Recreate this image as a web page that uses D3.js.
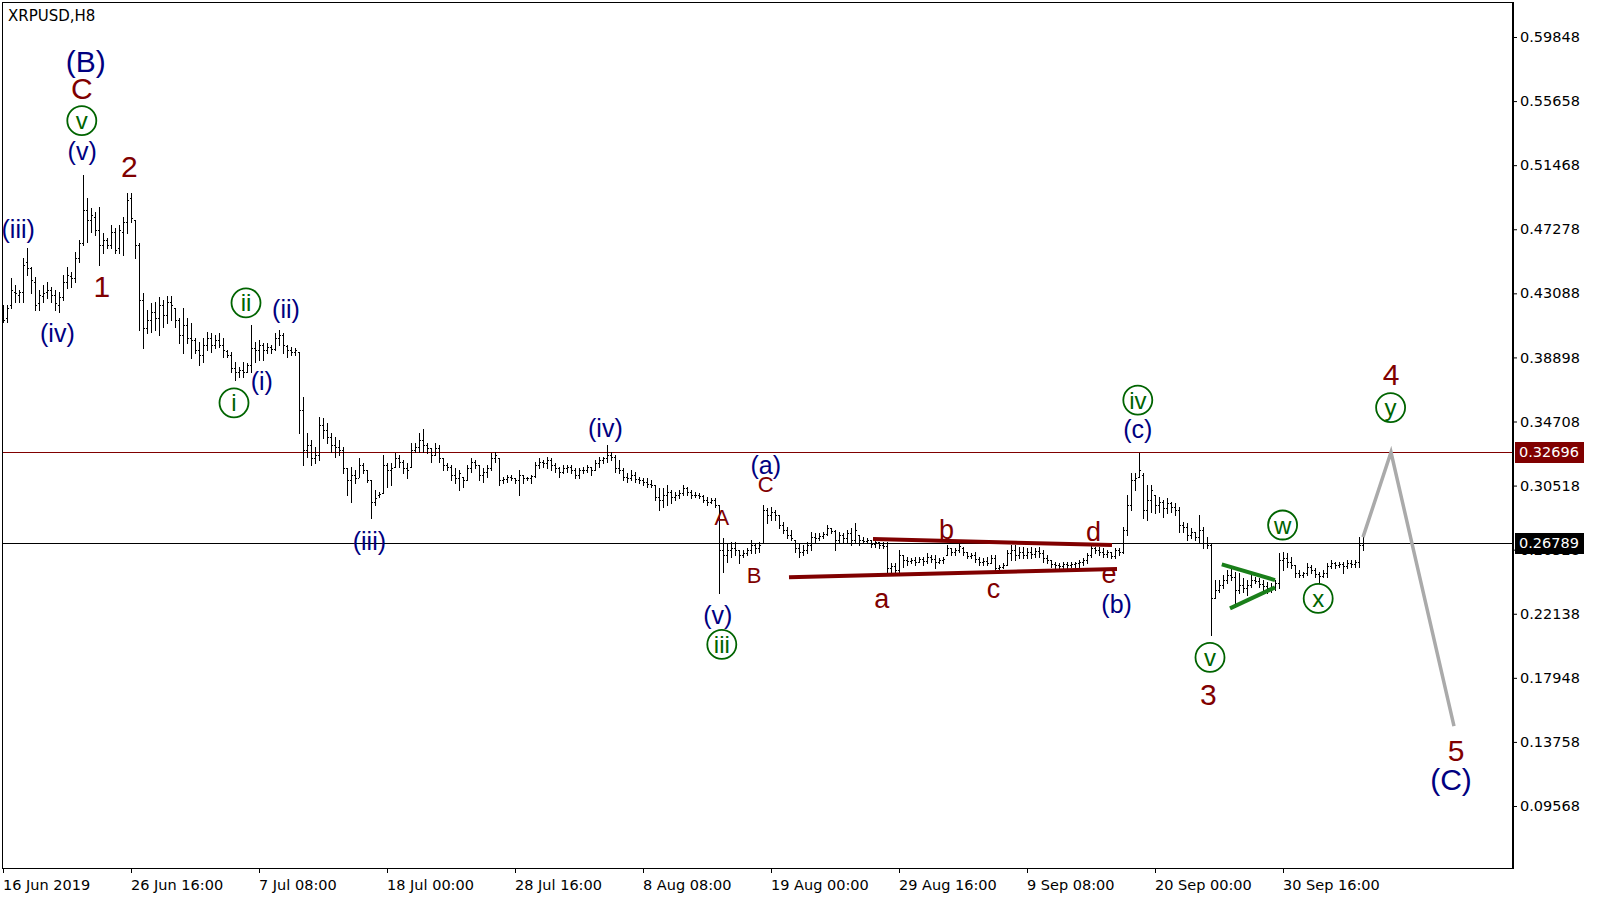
<!DOCTYPE html>
<html><head><meta charset="utf-8">
<script src="https://cdn.jsdelivr.net/npm/d3@7"></script>
<style>
html,body{margin:0;padding:0;background:#fff;}
svg{display:block;}
</style></head><body>
<svg id="chart" width="1599" height="900"></svg>
<script>
const symbol = "XRPUSD,H8";

const high = [
.4232,.4232,.4409,.4363,.4330,.4540,.4605,.4481,.4415,.4330,
.4363,.4383,.4350,.4330,.4317,.4429,.4481,.4448,.4579,.4657,
.5082,.4932,.4867,.4841,.4873,.4703,.4671,.4756,.4736,.4756,
.4808,.4965,.4965,.4788,.4638,.4311,.4200,.4245,.4252,.4285,
.4265,.4291,.4291,.4213,.4147,.4213,.4147,.4115,.4017,.3990,
.4017,.4056,.4049,.4036,.4049,.4017,.3938,.3925,.3860,.3827,
.3860,.3853,.4102,.3990,.4003,.3984,.3984,.3971,.4049,.4069,
.4049,.3971,.3958,.3951,.3925,.3631,.3395,.3349,.3304,.3500,
.3493,.3461,.3395,.3369,.3349,.3304,.3166,.3173,.3153,.3232,
.3199,.3153,.3088,.3022,.3009,.3251,.3199,.3199,.3264,.3251,
.3219,.3199,.3330,.3330,.3395,.3421,.3330,.3297,.3330,.3317,
.3232,.3199,.3186,.3166,.3153,.3107,.3186,.3232,.3219,.3186,
.3166,.3186,.3264,.3271,.3232,.3107,.3121,.3121,.3101,.3153,
.3121,.3107,.3121,.3206,.3232,.3219,.3238,.3232,.3199,.3173,
.3186,.3186,.3186,.3166,.3166,.3173,.3186,.3173,.3219,.3238,
.3238,.3317,.3271,.3251,.3219,.3166,.3134,.3153,.3140,.3107,
.3101,.3101,.3088,.3055,.3036,.3036,.3055,.3022,.3009,.3022,
.3055,.3042,.3022,.3009,.3003,.2990,.2977,.2970,.2970,.2924,
.2709,.2676,.2682,.2682,.2630,.2630,.2643,.2695,.2676,.2682,
.2924,.2905,.2911,.2892,.2859,.2813,.2780,.2761,.2695,.2676,
.2663,.2682,.2748,.2741,.2741,.2748,.2794,.2774,.2761,.2748,
.2741,.2761,.2774,.2807,.2728,.2715,.2709,.2695,.2709,.2682,
.2682,.2682,.2545,.2545,.2630,.2597,.2584,.2578,.2584,.2584,
.2584,.2610,.2597,.2597,.2578,.2584,.2663,.2643,.2643,.2676,
.2650,.2617,.2610,.2617,.2584,.2578,.2584,.2597,.2597,.2532,
.2545,.2630,.2663,.2663,.2650,.2650,.2643,.2650,.2643,.2650,
.2630,.2597,.2565,.2552,.2545,.2552,.2552,.2552,.2552,.2565,
.2578,.2610,.2663,.2650,.2650,.2643,.2630,.2617,.2643,.2643,
.2780,.2990,.3134,.3134,.3264,.3134,.3055,.3055,.2990,.2977,
.2957,.2970,.2944,.2937,.2911,.2813,.2807,.2774,.2748,.2859,
.2780,.2715,.2676,.2434,.2434,.2467,.2499,.2512,.2486,.2480,
.2447,.2434,.2467,.2453,.2447,.2434,.2421,.2414,.2434,.2610,
.2617,.2610,.2584,.2532,.2499,.2486,.2545,.2532,.2512,.2486,
.2499,.2545,.2565,.2552,.2552,.2552,.2565,.2565,.2565,.2715,
.2715];

const low = [
.4121,.4121,.4213,.4252,.4252,.4252,.4429,.4311,.4200,.4200,
.4252,.4278,.4252,.4200,.4187,.4265,.4344,.4350,.4383,.4514,
.4625,.4644,.4710,.4690,.4494,.4572,.4605,.4605,.4572,.4572,
.4559,.4703,.4775,.4540,.4069,.3951,.4049,.4056,.4069,.4036,
.4088,.4115,.4134,.4088,.3984,.3918,.3984,.3886,.3918,.3840,
.3860,.3938,.3925,.3951,.3958,.3892,.3892,.3794,.3742,.3761,
.3761,.3794,.3794,.3860,.3873,.3873,.3918,.3918,.3938,.3971,
.3918,.3892,.3905,.3905,.3395,.3186,.3238,.3186,.3199,.3219,
.3363,.3330,.3271,.3238,.3251,.3134,.2990,.2944,.3068,.3107,
.3134,.3075,.2839,.2924,.2977,.3003,.3042,.3055,.3173,.3173,
.3134,.3101,.3173,.3271,.3271,.3271,.3264,.3206,.3251,.3206,
.3153,.3153,.3088,.3068,.3022,.3042,.3088,.3140,.3166,.3088,
.3075,.3107,.3153,.3206,.3055,.3068,.3075,.3088,.3068,.2990,
.3068,.3088,.3068,.3107,.3166,.3173,.3166,.3153,.3140,.3107,
.3134,.3140,.3134,.3101,.3101,.3134,.3140,.3121,.3153,.3173,
.3199,.3206,.3219,.3140,.3134,.3088,.3075,.3088,.3075,.3068,
.3055,.3042,.3042,.2957,.2892,.2911,.2924,.2937,.2957,.2970,
.2990,.2990,.2970,.2977,.2970,.2944,.2924,.2937,.2911,.2349,
.2486,.2552,.2584,.2597,.2545,.2584,.2597,.2610,.2610,.2617,
.2676,.2807,.2826,.2826,.2774,.2741,.2709,.2695,.2617,.2584,
.2597,.2610,.2630,.2682,.2695,.2709,.2728,.2741,.2630,.2682,
.2682,.2682,.2663,.2676,.2663,.2676,.2676,.2650,.2650,.2643,
.2643,.2467,.2486,.2467,.2486,.2519,.2532,.2545,.2532,.2552,
.2532,.2545,.2552,.2512,.2545,.2545,.2597,.2597,.2597,.2617,
.2597,.2578,.2578,.2552,.2532,.2532,.2532,.2545,.2480,.2499,
.2512,.2532,.2565,.2565,.2578,.2578,.2578,.2578,.2584,.2584,
.2552,.2545,.2519,.2512,.2512,.2499,.2512,.2519,.2519,.2519,
.2532,.2545,.2584,.2610,.2597,.2584,.2584,.2578,.2578,.2597,
.2610,.2728,.2892,.3022,.3107,.2839,.2826,.2879,.2872,.2879,
.2846,.2872,.2879,.2859,.2748,.2748,.2695,.2709,.2695,.2676,
.2643,.2643,.2074,.2316,.2355,.2382,.2414,.2434,.2257,.2349,
.2355,.2336,.2388,.2414,.2388,.2368,.2349,.2355,.2368,.2382,
.2499,.2519,.2512,.2453,.2453,.2453,.2467,.2480,.2453,.2414,
.2453,.2453,.2512,.2512,.2519,.2480,.2512,.2519,.2519,.2519,
.2630];

const open = [
.4180,.4147,.4232,.4317,.4298,.4317,.4514,.4474,.4383,.4245,
.4291,.4317,.4330,.4298,.4232,.4285,.4383,.4422,.4409,.4540,
.4638,.4854,.4788,.4808,.4723,.4625,.4657,.4625,.4710,.4605,
.4710,.4775,.4932,.4788,.4625,.4265,.4082,.4134,.4187,.4147,
.4232,.4167,.4252,.4213,.4134,.4036,.4102,.4017,.4003,.3938,
.3905,.3971,.4017,.3971,.4003,.3971,.3932,.3905,.3820,.3794,
.3807,.3794,.3840,.3951,.3938,.3971,.3938,.3958,.3945,.4017,
.4036,.3964,.3938,.3925,.3925,.3546,.3284,.3317,.3232,.3251,
.3448,.3415,.3369,.3317,.3304,.3284,.3166,.3088,.3121,.3101,
.3186,.3153,.3088,.2944,.2990,.3003,.3186,.3153,.3173,.3232,
.3206,.3166,.3173,.3284,.3304,.3349,.3317,.3297,.3251,.3297,
.3232,.3186,.3173,.3121,.3101,.3107,.3088,.3166,.3206,.3186,
.3121,.3140,.3166,.3232,.3232,.3088,.3094,.3107,.3101,.3088,
.3121,.3101,.3101,.3114,.3186,.3206,.3199,.3219,.3186,.3166,
.3140,.3166,.3173,.3153,.3121,.3153,.3153,.3173,.3153,.3199,
.3219,.3232,.3251,.3238,.3166,.3153,.3107,.3101,.3121,.3094,
.3088,.3075,.3062,.3055,.2977,.2957,.2990,.3009,.2977,.2990,
.3003,.3036,.3009,.2990,.2990,.2983,.2957,.2944,.2957,.2924,
.2630,.2597,.2630,.2643,.2630,.2597,.2610,.2630,.2663,.2643,
.2676,.2892,.2859,.2879,.2859,.2794,.2761,.2728,.2695,.2643,
.2617,.2630,.2663,.2715,.2709,.2722,.2735,.2774,.2754,.2695,
.2728,.2709,.2741,.2695,.2728,.2695,.2689,.2695,.2669,.2682,
.2663,.2656,.2512,.2525,.2499,.2597,.2565,.2558,.2565,.2552,
.2571,.2558,.2584,.2571,.2552,.2565,.2597,.2643,.2617,.2630,
.2643,.2617,.2591,.2597,.2571,.2552,.2558,.2545,.2578,.2512,
.2519,.2532,.2610,.2630,.2597,.2617,.2597,.2617,.2604,.2624,
.2610,.2578,.2565,.2538,.2532,.2525,.2538,.2532,.2538,.2545,
.2552,.2565,.2597,.2643,.2630,.2617,.2604,.2617,.2591,.2630,
.2617,.2761,.2924,.3088,.3107,.3121,.2892,.2957,.2990,.2924,
.2944,.2905,.2937,.2911,.2892,.2794,.2780,.2728,.2748,.2715,
.2761,.2676,.2663,.2316,.2368,.2401,.2434,.2467,.2453,.2368,
.2401,.2382,.2401,.2434,.2427,.2408,.2395,.2382,.2388,.2414,
.2565,.2578,.2552,.2532,.2480,.2467,.2480,.2519,.2499,.2473,
.2460,.2480,.2525,.2545,.2532,.2538,.2525,.2545,.2538,.2552,
.2663];

const close = [
.4134,.4213,.4330,.4311,.4317,.4494,.4474,.4396,.4232,.4298,
.4311,.4330,.4298,.4245,.4285,.4383,.4429,.4409,.4540,.4638,
.4854,.4788,.4821,.4723,.4625,.4657,.4625,.4710,.4592,.4723,
.4775,.4919,.4801,.4625,.4265,.4082,.4134,.4187,.4147,.4232,
.4167,.4252,.4232,.4134,.4036,.4102,.4017,.4003,.3938,.3905,
.3971,.4017,.3971,.4003,.3971,.3938,.3905,.3820,.3794,.3807,
.3794,.3840,.3951,.3938,.3971,.3938,.3958,.3945,.4017,.4036,
.3971,.3938,.3925,.3938,.3546,.3284,.3317,.3232,.3251,.3448,
.3415,.3369,.3317,.3304,.3284,.3166,.3088,.3121,.3101,.3186,
.3153,.3088,.2944,.2970,.2996,.3186,.3153,.3166,.3232,.3206,
.3166,.3153,.3284,.3304,.3349,.3317,.3297,.3251,.3297,.3232,
.3186,.3173,.3121,.3101,.3134,.3088,.3166,.3206,.3186,.3121,
.3140,.3166,.3232,.3251,.3088,.3094,.3107,.3101,.3088,.3121,
.3101,.3101,.3114,.3186,.3206,.3199,.3219,.3186,.3166,.3140,
.3166,.3173,.3153,.3121,.3153,.3153,.3173,.3153,.3199,.3219,
.3232,.3251,.3238,.3166,.3153,.3107,.3101,.3121,.3094,.3088,
.3075,.3062,.3055,.2977,.2957,.2990,.3009,.2977,.2990,.3003,
.3036,.3009,.2990,.2990,.2983,.2957,.2944,.2957,.2924,.2630,
.2597,.2630,.2643,.2630,.2597,.2610,.2630,.2663,.2643,.2663,
.2892,.2859,.2879,.2859,.2794,.2761,.2728,.2709,.2643,.2617,
.2630,.2663,.2715,.2709,.2722,.2735,.2774,.2754,.2695,.2728,
.2709,.2741,.2695,.2761,.2695,.2689,.2695,.2669,.2682,.2663,
.2656,.2512,.2525,.2499,.2597,.2565,.2558,.2565,.2552,.2571,
.2558,.2584,.2571,.2552,.2565,.2571,.2643,.2617,.2630,.2656,
.2617,.2591,.2597,.2571,.2552,.2558,.2545,.2578,.2512,.2519,
.2532,.2610,.2630,.2597,.2617,.2597,.2617,.2604,.2624,.2610,
.2578,.2565,.2538,.2532,.2525,.2538,.2532,.2538,.2545,.2552,
.2565,.2597,.2643,.2630,.2617,.2604,.2617,.2591,.2630,.2617,
.2761,.2924,.3088,.3101,.3153,.2892,.2957,.3022,.2924,.2944,
.2905,.2937,.2911,.2892,.2794,.2780,.2728,.2748,.2715,.2761,
.2676,.2663,.2316,.2368,.2401,.2434,.2467,.2453,.2368,.2401,
.2382,.2401,.2434,.2427,.2408,.2395,.2382,.2388,.2414,.2565,
.2578,.2552,.2532,.2480,.2467,.2480,.2519,.2499,.2473,.2460,
.2480,.2525,.2545,.2532,.2538,.2525,.2545,.2538,.2552,.2663,
.2679];

const yTicks = [0.59848,0.55658,0.51468,0.47278,0.43088,0.38898,0.34708,0.30518,0.26328,0.22138,0.17948,0.13758,0.09568];
const xTickBars = [0,32,64,96,128,160,192,224,256,288,320];
const xTickLabels = ["16 Jun 2019","26 Jun 16:00","7 Jul 08:00","18 Jul 00:00","28 Jul 16:00","8 Aug 08:00","19 Aug 00:00","29 Aug 16:00","9 Sep 08:00","20 Sep 00:00","30 Sep 16:00"];

const resistanceLevel = 0.32696;
const lastPrice = 0.26789;

// trend lines: [barIndex, price]
const triangleUpper = [[217.5,0.2702],[277.25,0.2663]];
const triangleLower = [[196.5,0.2453],[278.5,0.2506]];
const wTriangleUpper = [[304.7,0.2537],[318,0.2434]];
const wTriangleLower = [[306.75,0.2249],[318,0.2386]];
const projection = [[340,0.2715],[347,0.32696],[362.75,0.1479]];

// wave labels: [text, barIndex, price]
const labelsCycle = [["(B)",20.7,0.5758],["(C)",362,0.1062]];
const labelsPrimary = [["C",19.7,0.5580],["1",24.7,0.4285],["2",31.6,0.5069],["3",301.35,0.1616],["4",347,0.3709],["5",363.25,0.1252]];
const labelsCircled = [["v",19.7,0.5438],["i",57.75,0.3593],["ii",60.75,0.4247],["iii",179.7,0.2013],["iv",283.7,0.3611],["v",301.75,0.1928],["w",319.9,0.2794],["x",328.8,0.2314],["y",346.9,0.3562]];
const labelsMinor = [["(iii)",3.8,0.4670],["(iv)",13.6,0.3990],["(v)",19.8,0.5183],["(i)",64.7,0.3676],["(ii)",70.75,0.4147],["(iii)",91.6,0.2630],["(iv)",150.6,0.3369],["(v)",178.7,0.2146],["(a)",190.7,0.3127],["(b)",278.4,0.2218],["(c)",283.7,0.3362]];
const labelsMinute = [["A",179.7,0.2794],["B",187.75,0.2414],["C",190.7,0.3009]];
const labelsTriangle = [["a",219.7,0.2251],["b",235.9,0.2702],["c",247.6,0.2316],["d",272.6,0.2689],["e",276.5,0.2414]];

// ---------- drawing ----------
const svg = d3.select("#chart");
const L = 2, T = 2, R = 1512, B = 868;
const x = d3.scaleLinear().domain([0, 340]).range([3, 1363]);
const y = d3.scaleLinear().domain([0.09568, 0.59848]).range([806, 37]);
const AXF = "DejaVu Sans, Verdana, sans-serif";
const LBF = "Liberation Sans, Arial, sans-serif";
const NAVY = "#000080", MAROON = "#800000", GREEN = "#006400";

svg.append("rect").attr("width",1599).attr("height",900).attr("fill","#fff");

// title
svg.append("text").attr("x",8).attr("y",20.5).attr("font-family",AXF).attr("font-size","15px").attr("fill","#000").text(symbol);

// horizontal levels
const levels = [resistanceLevel, lastPrice];
const levelColors = [MAROON, "#000"];
levels.forEach((v,k)=>{
  const yy = Math.round(y(v)) + 0.5;
  svg.append("line").attr("x1",L).attr("x2",R).attr("y1",yy).attr("y2",yy)
    .attr("stroke",levelColors[k]).attr("stroke-width",1);
});

// OHLC bars
const bars = svg.append("g").attr("shape-rendering","crispEdges").attr("fill","#000");
high.forEach((h,i)=>{
  const xc = Math.round(x(i));
  const yh = Math.round(y(h)), yl = Math.round(y(low[i]));
  bars.append("rect").attr("x",xc).attr("y",yh).attr("width",1).attr("height",Math.max(1,yl-yh+1));
  bars.append("rect").attr("x",xc-1).attr("y",Math.round(y(open[i]))).attr("width",1).attr("height",1);
  bars.append("rect").attr("x",xc+1).attr("y",Math.round(y(close[i]))).attr("width",1).attr("height",1);
});

// trend lines
const line = d3.line().x(d=>x(d[0])).y(d=>y(d[1]));
[triangleUpper, triangleLower].forEach(d=>{
  svg.append("path").attr("d",line(d)).attr("stroke",MAROON).attr("stroke-width",4).attr("fill","none");
});
[wTriangleUpper, wTriangleLower].forEach(d=>{
  svg.append("path").attr("d",line(d)).attr("stroke","#1a7f1a").attr("stroke-width",4).attr("fill","none");
});
svg.append("path").attr("d",line(projection)).attr("stroke","#aaaaaa").attr("stroke-width",3.5).attr("fill","none").attr("stroke-linejoin","miter");

// labels
function addLabels(arr, size, color){
  svg.append("g").selectAll("text").data(arr).join("text")
    .attr("x",d=>x(d[1])).attr("y",d=>y(d[2]))
    .attr("text-anchor","middle").attr("font-family",LBF)
    .attr("font-size",size+"px").attr("fill",color).text(d=>d[0]);
}
addLabels(labelsCycle, 30, NAVY);
addLabels(labelsPrimary, 30, MAROON);
addLabels(labelsMinor, 25, NAVY);
addLabels(labelsMinute, 22, MAROON);
addLabels(labelsTriangle, 27, MAROON);

const cg = svg.append("g").selectAll("g").data(labelsCircled).join("g")
  .attr("transform",d=>`translate(${x(d[1])},${y(d[2])})`);
cg.append("circle").attr("r",14.5).attr("fill","none").attr("stroke",GREEN).attr("stroke-width",1.8);
cg.append("text").attr("text-anchor","middle").attr("dominant-baseline","central")
  .attr("font-family",LBF).attr("font-size","24px").attr("fill",GREEN).text(d=>d[0]);

// frame
const fr = svg.append("g").attr("shape-rendering","crispEdges");
fr.append("line").attr("x1",L).attr("x2",R).attr("y1",T+0.5).attr("y2",T+0.5).attr("stroke","#000");
fr.append("line").attr("x1",L+0.5).attr("x2",L+0.5).attr("y1",T).attr("y2",B).attr("stroke","#000");
fr.append("line").attr("x1",L).attr("x2",R).attr("y1",B+0.5).attr("y2",B+0.5).attr("stroke","#000");
fr.append("line").attr("x1",R+0.5).attr("x2",R+0.5).attr("y1",T).attr("y2",B+1).attr("stroke","#000").attr("stroke-width",2);

// y axis
const yAxis = d3.axisRight(y).tickValues(yTicks).tickSize(4).tickPadding(3).tickFormat(d3.format(".5f"));
const ya = svg.append("g").attr("transform",`translate(${R+1},0)`).call(yAxis)
  .attr("font-family",AXF).attr("font-size","14.5px");
ya.select(".domain").remove();
ya.selectAll("line").attr("stroke","#000");
ya.selectAll("text").attr("fill","#000");

// x axis
const xAxis = d3.axisBottom(x).tickValues(xTickBars).tickSize(5).tickFormat((d,i)=>xTickLabels[i]);
const xa = svg.append("g").attr("transform",`translate(0,${B})`).call(xAxis)
  .attr("font-family",AXF).attr("font-size","14.5px");
xa.select(".domain").remove();
xa.selectAll("line").attr("stroke","#000");
xa.selectAll("text").attr("fill","#000").attr("text-anchor","start").attr("x",-0.5).attr("y",22).attr("dy",null);

// price boxes
const boxColors = [MAROON, "#000"];
levels.forEach((v,k)=>{
  const yy = Math.round(y(v)) + 0.5;
  svg.append("rect").attr("x",R+3).attr("y",yy-10.5).attr("width",69).attr("height",21).attr("fill",boxColors[k]);
  svg.append("text").attr("x",R+7).attr("y",yy).attr("dy","0.32em").attr("font-family",AXF)
    .attr("font-size","14.5px").attr("fill","#fff").text(d3.format(".5f")(v));
});
</script>
</body></html>
